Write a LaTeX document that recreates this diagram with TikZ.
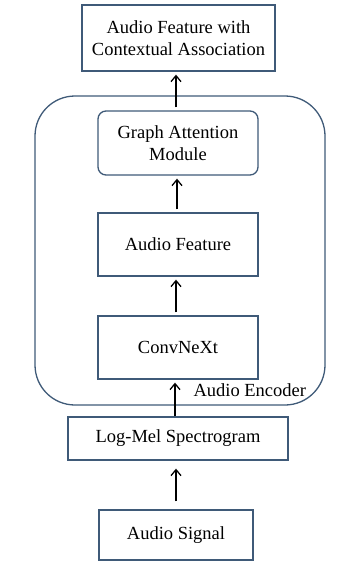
\documentclass[tikz,border=0pt]{standalone}
\usepackage{fontspec}
\setmainfont{Liberation Serif}
\usetikzlibrary{arrows.meta, positioning}
\definecolor{edge}{HTML}{3F5A78}

\begin{document}
\begin{tikzpicture}[
  x=1pt, y=-1pt,
  blk/.style={draw=edge, line width=1.3pt, fill=white, align=center,
    inner sep=0pt, font=\fontsize{18.5}{22}\selectfont},
  rblk/.style={blk, rounded corners=8pt},
  flow/.style={-{Straight Barb[length=6pt, width=10pt]}, line width=1.3pt,
    shorten <=3pt, shorten >=3pt},
  lbl/.style={font=\fontsize{18.5}{22}\selectfont},
]
\useasboundingbox (0,0) rectangle (338,563);

% encoder frame
\node[draw=edge, line width=1.3pt, rounded corners=40pt,
  minimum width=290pt, minimum height=309pt] (enc) at (180,250.5) {};

% blocks, bottom to top
\node[blk, minimum width=154pt, minimum height=50pt] (sig) at (176,535)
  {Audio Signal};
\node[blk, minimum width=220pt, minimum height=43pt] (mel) at (178,438.5)
  {Log-Mel Spectrogram};
\node[blk, minimum width=160pt, minimum height=63pt] (conv) at (178,347.5)
  {ConvNeXt};
\node[blk, minimum width=160pt, minimum height=63pt] (feat) at (178,244.5)
  {Audio Feature};
\node[rblk, minimum width=160pt, minimum height=64pt] (gat) at (178,143)
  {Graph Attention\\Module};
\node[blk, minimum width=193pt, minimum height=66pt] (out) at (178.5,38)
  {Audio Feature with\\Contextual Association};

\node[lbl, anchor=west] (enclbl) at (190,390) {Audio Encoder};

% arrows
\draw[flow, shorten <=8pt, shorten >=8pt] (sig.north) -- (sig.north |- mel.south);
\draw[flow, shorten <=0pt] ([xshift=-3pt]mel.north) -- ([xshift=-3pt]mel.north |- conv.south);
\draw[flow] ([xshift=-2pt]conv.north) -- ([xshift=-2pt]conv.north |- feat.south);
\draw[flow] ([xshift=-1pt]feat.north) -- ([xshift=-1pt]feat.north |- gat.south);
\draw[flow] ([xshift=-2pt]gat.north) -- ([xshift=-2pt]gat.north |- out.south);
\end{tikzpicture}
\end{document}
